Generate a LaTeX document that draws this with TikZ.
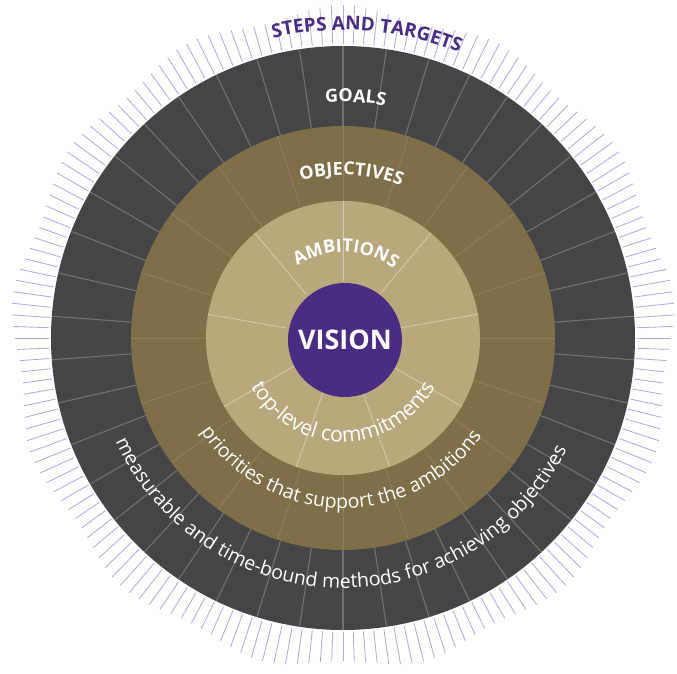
\documentclass[tikz,border=0pt]{standalone}
\usepackage{fontspec}
\setmainfont{Open Sans}
\usepackage{tikz}
\usetikzlibrary{decorations.text}

\definecolor{ringdark}{HTML}{454547}
\definecolor{ringolive}{HTML}{7E6F48}
\definecolor{ringlight}{HTML}{B8A87B}
\definecolor{visionpurple}{HTML}{4A2D82}
\definecolor{tickpurple}{HTML}{B3A9DE}

\tikzset{
  toptext/.style={decorate, decoration={text along path, text align=center,
      text color=white, text={|\bfseries\fontsize{18}{20}\selectfont|#1}}},
  lowtext/.style={decorate, decoration={text along path, text align=center,
      text color=white, text={|\fontsize{19.5}{22}\selectfont|#1}}},
}

\begin{document}
\begin{tikzpicture}
    \useasboundingbox (-343pt,-335pt) rectangle (334pt,338pt);

    % rays round the outside
    \foreach \a in {0,2,...,358} {
        \pgfmathsetmacro\tickend{328+5*sin(\a*13)}
        \draw[tickpurple, line width=0.85pt] (\a:294pt) -- (\a:\tickend pt);
    }

    % rings
    \fill[ringdark] (0,0) circle (292pt);
    \fill[ringolive] (0,0) circle (212pt);
    \fill[ringlight] (0,0) circle (137pt);

    % segment lines
    \foreach \k in {0,...,41}
        \draw[gray!75!ringdark, line width=1.1pt] (90+\k*360/42:212pt) -- (90+\k*360/42:292pt);
    \foreach \k in {0,...,19}
        \draw[ringolive!70!ringlight, line width=0.8pt] (90+\k*18:137pt) -- (90+\k*18:212pt);
    \foreach \k in {0,...,8}
        \draw[ringlight!60!white, line width=0.8pt] (90+\k*40:57pt) -- (90+\k*40:137pt);

    \node[circle, fill=visionpurple, minimum size=114pt, inner sep=0pt, text=white,
          font=\bfseries\fontsize{27}{30}\selectfont] at (2pt,-2pt) (vision) {VISION};

    % ring titles
    \path[toptext={GOALS}] (87+30:236pt) arc[start angle=87+30, end angle=87-30, radius=236pt];
    \path[toptext={OBJECTIVES}] (87+40:163pt) arc[start angle=87+40, end angle=87-40, radius=163pt];
    \path[toptext={AMBITIONS}] (88+70:86pt) arc[start angle=88+70, end angle=88-70, radius=86pt];
    \path[decorate, decoration={text along path, text align=center, text color=visionpurple,
          text={|\bfseries\fontsize{19}{21}\selectfont|STEPS AND TARGETS}}]
        (85.5+30:308pt) arc[start angle=85.5+30, end angle=85.5-30, radius=308pt];

    % descriptions
    \path[decorate, decoration={text along path, text align=center, text color=white,
          text={|\fontsize{21}{24}\selectfont|top-level commitments}}]
        (270-80:104pt) arc[start angle=270-80, end angle=270+80, radius=104pt];
    \path[lowtext={priorities that support the ambitions}] (269-75:170pt) arc[start angle=269-75, end angle=269+75, radius=170pt];
    \path[lowtext={measurable and time-bound methods for achieving objectives}] (269-80:250pt) arc[start angle=269-80, end angle=269+80, radius=250pt];
\end{tikzpicture}
\end{document}
